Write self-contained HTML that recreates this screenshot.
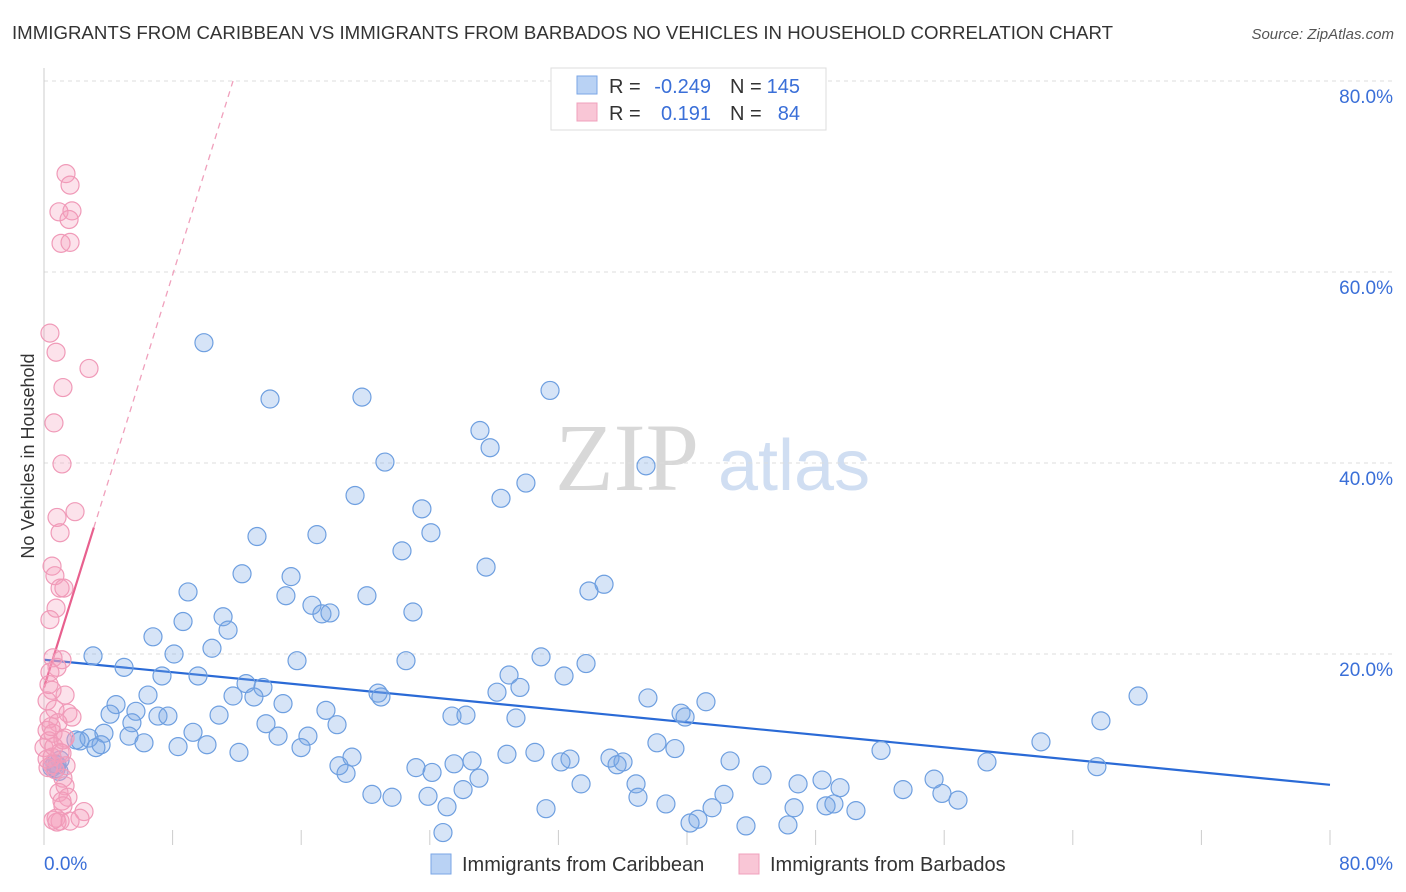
<!DOCTYPE html>
<html><head><meta charset="utf-8"><style>
body{margin:0;background:#fff;font-family:"Liberation Sans",sans-serif;}
svg{display:block}
</style></head><body>
<svg id="chart" width="1406" height="892" xmlns="http://www.w3.org/2000/svg" font-family="Liberation Sans, sans-serif">
<text x="12" y="39" font-size="18.5" fill="#333" textLength="1101" lengthAdjust="spacingAndGlyphs">IMMIGRANTS FROM CARIBBEAN VS IMMIGRANTS FROM BARBADOS NO VEHICLES IN HOUSEHOLD CORRELATION CHART</text>
<text x="1394" y="39" font-size="15" fill="#555" text-anchor="end" font-style="italic">Source: ZipAtlas.com</text>
<g>
<text x="555" y="490" font-size="96" fill="#d8d8d8" font-family="Liberation Serif, serif">ZIP</text>
<text x="718" y="490" font-size="72" fill="#d0def2">atlas</text>
</g>
<g id="grid"></g>
<g id="axes"></g>
<g id="trend"></g>
<g id="pts"></g>
<text transform="translate(34,456) rotate(-90)" font-size="18" fill="#333" text-anchor="middle">No Vehicles in Household</text>
<g>
<rect x="551" y="68" width="275" height="62" fill="#fff" stroke="#ddd"/>
<rect x="577" y="76" width="20" height="18" fill="#b9d2f4" stroke="#7aa6e6"/>
<rect x="577" y="103" width="20" height="18" fill="#f9c6d6" stroke="#f0a0bc"/>
<g font-size="20" fill="#333">
<text x="609" y="93">R =</text><text x="711" y="93" text-anchor="end" fill="#3a6fd8">-0.249</text>
<text x="730" y="93">N =</text><text x="800" y="93" text-anchor="end" fill="#3a6fd8">145</text>
<text x="609" y="120">R =</text><text x="711" y="120" text-anchor="end" fill="#3a6fd8">0.191</text>
<text x="730" y="120">N =</text><text x="800" y="120" text-anchor="end" fill="#3a6fd8">84</text>
</g>
</g>
<g>
<rect x="431" y="854" width="20" height="20" fill="#b9d2f4" stroke="#7aa6e6"/>
<text x="462" y="871" font-size="20" fill="#333">Immigrants from Caribbean</text>
<rect x="739" y="854" width="20" height="20" fill="#f9c6d6" stroke="#f0a0bc"/>
<text x="770" y="871" font-size="20" fill="#333">Immigrants from Barbados</text>
</g>
</svg>
<script>
const yTicks=[20,40,60,80];
const yTickLabels=["20.0%","40.0%","60.0%","80.0%"];
const xTickLabels=["0.0%","80.0%"];
const blueX=[9.95,14.06,19.78,31.48,27.12,27.75,21.21,37.45,29.98,19.35,28.43,23.51,24.07,13.25,16.98,22.27,27.5,12.32,15.37,8.96,34.84,33.9,15.05,20.09,16.67,22.95,17.29,17.79,11.14,8.65,11.45,6.78,10.45,8.09,3.05,15.74,22.52,30.92,4.98,33.72,7.34,9.58,28.93,32.35,12.57,13.62,29.61,6.47,11.76,13.06,20.78,28.18,20.96,68.06,37.57,41.18,4.48,5.72,4.11,17.54,14.87,7.09,7.71,10.89,25.38,26.25,39.63,39.88,29.36,65.75,5.47,13.81,18.23,3.73,2.8,5.29,9.27,14.56,16.42,1.99,2.24,6.22,3.55,3.23,8.34,10.14,12.13,15.99,38.13,39.25,52.07,62.02,19.16,26.63,28.8,30.54,32.72,35.21,36.02,32.16,25.51,23.14,24.14,18.35,18.79,42.68,35.65,58.66,65.5,44.67,27.06,26.07,33.41,46.91,48.4,36.83,49.52,55.37,20.4,21.65,23.89,25.07,36.95,42.3,53.44,55.86,38.69,41.56,46.66,48.65,49.14,50.51,31.23,56.86,40.68,40.19,43.67,46.28,24.82,0.81,0.5,0.75,0.93,0.68,1.0];
const blueY=[52.6,46.7,46.9,47.6,43.4,41.6,40.1,39.7,37.9,36.6,36.3,35.2,32.7,32.3,32.5,30.8,29.1,28.4,28.1,26.5,27.3,26.6,26.1,26.1,25.1,24.4,24.2,24.3,23.9,23.4,22.5,21.8,20.6,20.0,19.8,19.3,19.3,19.7,18.6,19.0,17.7,17.7,17.8,17.7,16.9,16.5,16.5,15.7,15.6,15.5,15.9,16.0,15.5,15.6,15.4,15.0,14.7,14.0,13.7,14.1,14.8,13.5,13.5,13.6,13.5,13.6,13.8,13.4,13.3,13.0,12.8,12.7,12.6,11.7,11.2,11.4,11.8,11.4,11.4,11.0,10.9,10.7,10.5,10.2,10.3,10.5,9.7,10.2,10.7,10.1,9.9,10.8,9.2,8.8,9.5,9.7,9.0,9.1,8.7,8.7,8.5,8.1,7.6,8.3,7.5,8.8,8.4,8.7,8.2,7.3,7.0,5.8,6.4,6.4,6.8,6.4,6.0,6.9,5.3,5.0,5.1,4.0,5.0,5.3,5.8,5.4,4.3,3.9,3.9,4.1,4.3,3.6,3.8,4.7,2.7,2.3,2.0,2.1,1.3,8.4,8.1,8.0,7.7,8.5,8.9];
const pinkX=[1.37,1.62,0.93,1.74,1.56,1.06,1.62,0.37,0.75,2.8,1.18,0.62,1.12,1.93,0.81,1.0,0.5,0.68,1.0,1.24,0.75,0.37,0.56,1.12,0.81,0.37,1.31,0.19,0.68,1.49,1.74,0.31,0.87,0.19,0.56,1.31,0.31,0.0,1.12,1.0,0.5,1.37,0.25,0.68,1.18,1.31,0.93,1.49,1.12,1.18,2.49,2.24,0.75,1.0,1.62,0.81,0.56,0.5,0.19,0.62,1.18,0.44,0.31,0.5];
const pinkY=[70.3,69.1,66.3,66.4,65.5,63.0,63.1,53.6,51.6,49.9,47.9,44.2,39.9,34.9,34.3,32.7,29.2,28.2,26.9,26.9,24.8,23.6,19.6,19.4,18.6,18.1,15.7,15.1,14.2,13.8,13.4,13.2,12.8,12.0,11.7,11.2,10.9,10.2,9.6,9.7,9.2,8.3,8.1,7.9,7.0,6.2,5.5,5.0,4.6,4.1,3.5,2.8,2.8,2.5,2.5,2.4,2.6,8.4,9.0,10.3,11.0,12.4,16.8,16.2];
const blueTrend=[19.4,6.3];      // y at x=0 and x=80
const pinkTrend=[16.5,5.4];      // intercept, slope
const pinkSolidEnd=3.1;

const NS="http://www.w3.org/2000/svg";
const X=v=>44+v*(1286/80);
const Y=v=>845-v*(764/80);
function mk(tag,attrs,parent){const e=document.createElementNS(NS,tag);for(const k in attrs)e.setAttribute(k,attrs[k]);parent.appendChild(e);return e;}
const grid=document.getElementById('grid'),axes=document.getElementById('axes'),trend=document.getElementById('trend'),pts=document.getElementById('pts');
yTicks.forEach((t,i)=>{
 const l=mk('line',{x1:44,x2:1392,y1:Y(t),y2:Y(t),stroke:'#ddd','stroke-dasharray':'4,4'},grid);
 
 
 const tx=mk('text',{x:1393,y:Y(t)+22,'font-size':19,fill:'#3a6fd8','text-anchor':'end'},axes);
 tx.textContent=yTickLabels[i];
 
 
});
const ax=mk('line',{x1:44,x2:44,y1:68,y2:845,stroke:'#ccc'},axes);


for(let i=1;i<=10;i++){
 const t=mk('line',{x1:X(i*8),x2:X(i*8),y1:830,y2:845,stroke:'#ccc'},axes);
 
 
}
const xl0=mk('text',{x:44,y:870,'font-size':19,fill:'#3a6fd8'},axes);xl0.textContent=xTickLabels[0];


const xl1=mk('text',{x:1393,y:870,'font-size':19,fill:'#3a6fd8','text-anchor':'end'},axes);xl1.textContent=xTickLabels[1];


const dot=(x,y,fill,stroke)=>mk('circle',{cx:X(x),cy:Y(y),r:9,fill:fill,stroke:stroke,'stroke-width':1.2},pts);
blueX.forEach((x,i)=>{const c=dot(x,blueY[i],'rgba(120,165,230,0.3)','#6e9fe0');
 
 });
pinkX.forEach((x,i)=>{const c=dot(x,pinkY[i],'rgba(245,160,190,0.3)','#f09ab8');
 
 });
const bt=mk('line',{x1:X(0),y1:Y(blueTrend[0]),x2:X(80),y2:Y(blueTrend[1]),stroke:'#2a6ad6','stroke-width':2.2},trend);


const pEnd=(80-pinkTrend[0])/pinkTrend[1];
const pd=mk('line',{x1:X(pinkSolidEnd),y1:Y(pinkTrend[0]+pinkTrend[1]*pinkSolidEnd),x2:X(pEnd),y2:Y(80),stroke:'#f0a0bc','stroke-width':1.3,'stroke-dasharray':'6,5'},trend);


const ps=mk('line',{x1:X(0),y1:Y(pinkTrend[0]),x2:X(pinkSolidEnd),y2:Y(pinkTrend[0]+pinkTrend[1]*pinkSolidEnd),stroke:'#e8608e','stroke-width':2.2},trend);


</script>
</body></html>
